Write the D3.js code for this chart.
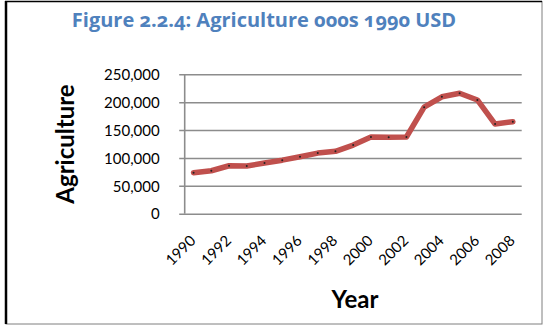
<!DOCTYPE html>
<html>
<head>
<meta charset="utf-8">
<script src="https://cdn.jsdelivr.net/npm/d3@7"></script>
<style>
  html, body { margin: 0; padding: 0; background: #fff; }
  svg { display: block; }
</style>
</head>
<body>
<svg id="chart" width="543" height="326"></svg>
<script>
// Agriculture output, thousands of constant 1990 USD
const years = [1990, 1991, 1992, 1993, 1994, 1995, 1996, 1997, 1998, 1999,
               2000, 2001, 2002, 2003, 2004, 2005, 2006, 2007, 2008];
const agriculture = [73500, 77000, 86000, 85500, 90800, 96000, 102000, 108700, 111800, 123000,
                     137500, 137000, 137500, 191000, 209700, 216000, 204000, 160700, 165000];
const yTicks = [0, 50000, 100000, 150000, 200000, 250000];
const xTickYears = [1990, 1992, 1994, 1996, 1998, 2000, 2002, 2004, 2006, 2008];

const svg = d3.select("#chart");
const plot = { left: 184.7, right: 521.7, top: 74.3, bottom: 213.7 };
const font = "Lato, 'Open Sans', sans-serif";

// frame
svg.append("rect").attr("x", 6).attr("y", 1.5).attr("width", 536).attr("height", 322.5)
  .attr("fill", "#fff").attr("stroke", "#7f7f7f").attr("stroke-width", 1);
svg.append("line").attr("x1", 6).attr("x2", 6).attr("y1", 1).attr("y2", 324)
  .attr("stroke", "#000").attr("stroke-width", 2.5);
svg.append("line").attr("x1", 5).attr("x2", 542).attr("y1", 1.5).attr("y2", 1.5)
  .attr("stroke", "#000").attr("stroke-width", 1.5);

const x = d3.scaleBand().domain(years).range([plot.left, plot.right]).paddingInner(0).paddingOuter(0);
const y = d3.scaleLinear().domain([0, 250000]).range([plot.bottom, plot.top]);

// gridlines and y axis
const yAxis = d3.axisLeft(y).tickValues(yTicks)
  .tickSize(-(plot.right - plot.left)).tickPadding(25)
  .tickFormat(d3.format(","));
const gy = svg.append("g").attr("transform", `translate(${plot.left},0)`).call(yAxis);
gy.select(".domain").remove();
gy.selectAll(".tick line").attr("stroke", "#8c8c8c").attr("stroke-width", 1.6)
  .attr("x1", -5.5);
gy.selectAll(".tick text").attr("font-family", font).attr("font-size", 15)
  .attr("fill", "#000").attr("dy", "0.35em");
svg.append("line").attr("x1", plot.left).attr("x2", plot.left)
  .attr("y1", plot.top).attr("y2", plot.bottom)
  .attr("stroke", "#8c8c8c").attr("stroke-width", 1.6);

// x tick labels, rotated
const gx = svg.append("g");
gx.selectAll("text").data(xTickYears).join("text")
  .attr("transform", d => `translate(${x(d) + x.bandwidth() / 2 + 3},${plot.bottom + 28}) rotate(-45)`)
  .attr("text-anchor", "end")
  .attr("font-family", font).attr("font-size", 15).attr("fill", "#000")
  .text(d => d);

// series line
const line = d3.line().x((d, i) => x(years[i]) + x.bandwidth() / 2).y(d => y(d));
svg.append("path").datum(agriculture)
  .attr("d", line).attr("fill", "none")
  .attr("stroke", "#c0504d").attr("stroke-width", 5.5)
  .attr("stroke-linejoin", "round").attr("stroke-linecap", "round");
svg.append("g").selectAll("circle").data(agriculture).join("circle")
  .attr("cx", (d, i) => x(years[i]) + x.bandwidth() / 2)
  .attr("cy", d => y(d)).attr("r", 1)
  .attr("fill", "#222");

// titles
svg.append("text").attr("x", 264).attr("y", 26.5).attr("text-anchor", "middle")
  .attr("font-family", "'Open Sans', Lato, sans-serif").attr("font-weight", "bold").attr("font-size", 20)
  .attr("fill", "#4f81bd").style("font-feature-settings", "'onum' 1")
  .text("Figure 2.2.4: Agriculture 000s 1990 USD");
svg.append("text").attr("transform", "translate(74,144) rotate(-90)")
  .attr("text-anchor", "middle")
  .attr("font-family", font).attr("font-weight", "bold").attr("font-size", 24)
  .attr("fill", "#000").text("Agriculture");
svg.append("text").attr("x", 355).attr("y", 308).attr("text-anchor", "middle")
  .attr("font-family", font).attr("font-weight", "bold").attr("font-size", 24)
  .attr("fill", "#000").text("Year");
</script>
</body>
</html>
